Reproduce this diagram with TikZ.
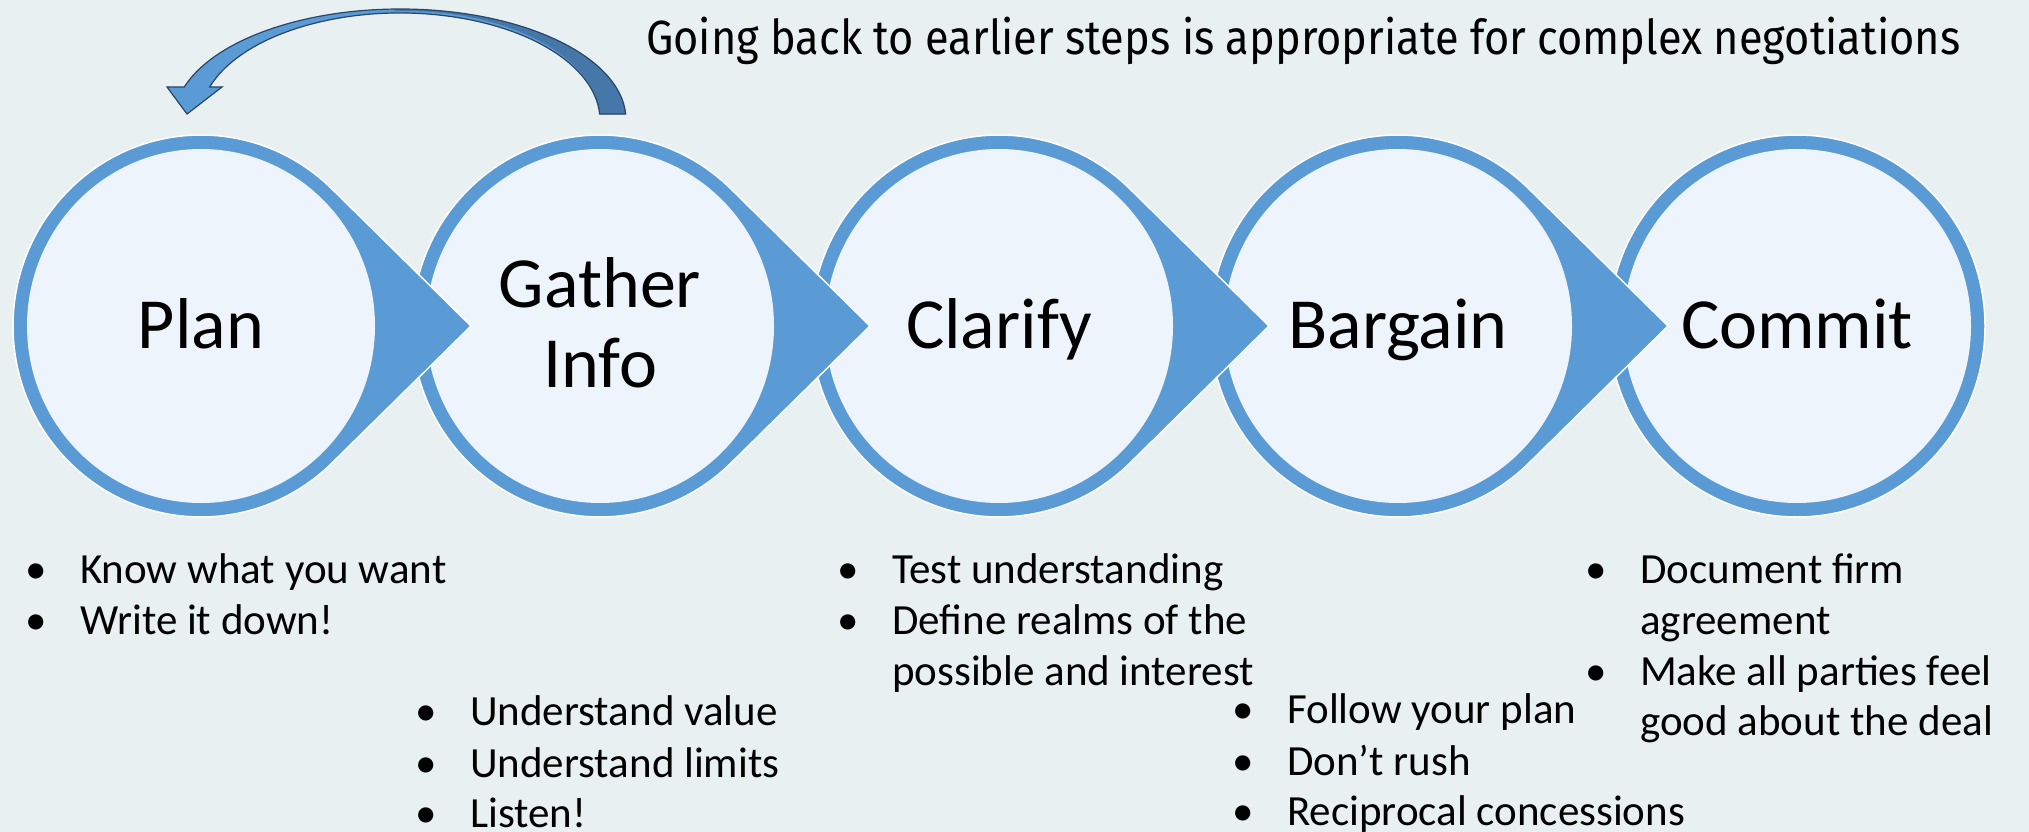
\documentclass[tikz,border=0pt]{standalone}
\usepackage{fontspec}
\usepackage{graphicx}
\setmainfont{Carlito}
\newfontfamily\titlefont{Fira Sans}
\usetikzlibrary{calc}

\definecolor{bgcol}{HTML}{E8F0F2}
\definecolor{ringblue}{HTML}{5B9BD5}
\definecolor{innerfill}{HTML}{EEF4FB}
\definecolor{arrowlight}{HTML}{5B9BD5}
\definecolor{arrowdark}{HTML}{4677A9}
\definecolor{arrowline}{HTML}{29456A}

\begin{document}
\begin{tikzpicture}[x=1pt,y=1pt,
  stepshape/.style={fill=ringblue, draw=white, line width=1.5pt, line join=miter},
  stepinner/.style={fill=innerfill},
  steplabel/.style={font=\fontsize{72}{80}\selectfont, anchor=base, inner sep=0pt, text=black},
  itemtext/.style={font=\fontsize{43}{51}\selectfont, anchor=base west, inner sep=0pt, text=black},
  backarrow/.style={draw=arrowline, line width=1.2pt, line join=miter},
]
\useasboundingbox (0,0) rectangle (2029,-832);
\fill[bgcol] (0,0) rectangle (2029,-832);

% centres of the five steps
\coordinate (c-plan)    at (201,-326);
\coordinate (c-gather)  at (600,-326);
\coordinate (c-clarify) at (999,-326);
\coordinate (c-bargain) at (1398,-326);
\coordinate (c-commit)  at (1797,-326);

% last step: plain ring
\path[stepshape] (c-commit) ellipse [x radius=188, y radius=191];
\fill[stepinner] (c-commit) ellipse [x radius=174, y radius=177];

% remaining steps, right to left, each ring with a pointer into the next one
\foreach \n in {bargain, clarify, gather, plan} {
  \path[stepshape] ($(c-\n)+(270,0)$) -- ($(c-\n)+(130.9,137.1)$)
     arc[start angle=45.87, end angle=314.13, x radius=188, y radius=191] -- cycle;
  \fill[stepinner] (c-\n) ellipse [x radius=174, y radius=177];
}

% step labels
\node[steplabel] (plan)    at ($(c-plan)+(0,-22)$) {Plan};
\node[steplabel] (gather)  at (600,-307) {Gather};
\node[steplabel] (info)    at (600,-387) {Info};
\node[steplabel] (clarify) at ($(c-clarify)+(0,-22)$) {Clarify};
\node[steplabel] (bargain) at ($(c-bargain)+(0,-22)$) {Bargain};
\node[steplabel] (commit)  at ($(c-commit)+(0,-22)$) {Commit};

% curved arrow back from Gather Info to Plan
\def\arrowpath{(625.7,-114) arc[start angle=3.1, end angle=162.7, x radius=226, y radius=111]
   -- (167,-87) -- (187,-114) -- (222,-87) -- (209.7,-87)
   arc[start angle=162.04, end angle=3.2, x radius=200, y radius=107] -- cycle}
\fill[arrowlight] \arrowpath;
\begin{scope}
  \clip \arrowpath;
  \fill[arrowdark] (395,0) rectangle (700,-130);
  \fill[arrowlight] (405,-120) ellipse [x radius=195, y radius=109];
\end{scope}
\draw[backarrow] \arrowpath;

% note above the arrow
\node[anchor=base west, inner sep=0pt] (note) at (646,-55)
  {\resizebox{1314pt}{\height}{\titlefont\fontsize{48}{58}\selectfont Going back to earlier steps is appropriate for complex negotiations}};

% Plan
\node[itemtext] (p1b) at (25,-583) {\textbullet};
\node[itemtext] (p1)  at (80,-583) {Know what you want};
\node[itemtext] (p2b) at (25,-634) {\textbullet};
\node[itemtext] (p2)  at (80,-634) {Write it down!};

% Gather Info
\node[itemtext] (g1b) at (415,-725) {\textbullet};
\node[itemtext] (g1)  at (470,-725) {Understand value};
\node[itemtext] (g2b) at (415,-777) {\textbullet};
\node[itemtext] (g2)  at (470,-777) {Understand limits};
\node[itemtext] (g3b) at (415,-827) {\textbullet};
\node[itemtext] (g3)  at (470,-827) {Listen!};

% Clarify
\node[itemtext] (k1b) at (837,-583) {\textbullet};
\node[itemtext] (k1)  at (892,-583) {Test understanding};
\node[itemtext] (k2b) at (837,-634) {\textbullet};
\node[itemtext] (k2)  at (892,-634) {Define realms of the};
\node[itemtext] (k3)  at (892,-685) {possible and interest};

% Bargain
\node[itemtext] (r1b) at (1232,-723) {\textbullet};
\node[itemtext] (r1)  at (1287,-723) {Follow your plan};
\node[itemtext] (r2b) at (1232,-775) {\textbullet};
\node[itemtext] (r2)  at (1287,-775) {Don’t rush};
\node[itemtext] (r3b) at (1232,-825) {\textbullet};
\node[itemtext] (r3)  at (1287,-825) {Reciprocal concessions};

% Commit
\node[itemtext] (m1b) at (1585,-583) {\textbullet};
\node[itemtext] (m1)  at (1640,-583) {Document firm};
\node[itemtext] (m2)  at (1640,-634) {agreement};
\node[itemtext] (m3b) at (1585,-685) {\textbullet};
\node[itemtext] (m3)  at (1640,-685) {Make all parties feel};
\node[itemtext] (m4)  at (1640,-735) {good about the deal};
\end{tikzpicture}
\end{document}
